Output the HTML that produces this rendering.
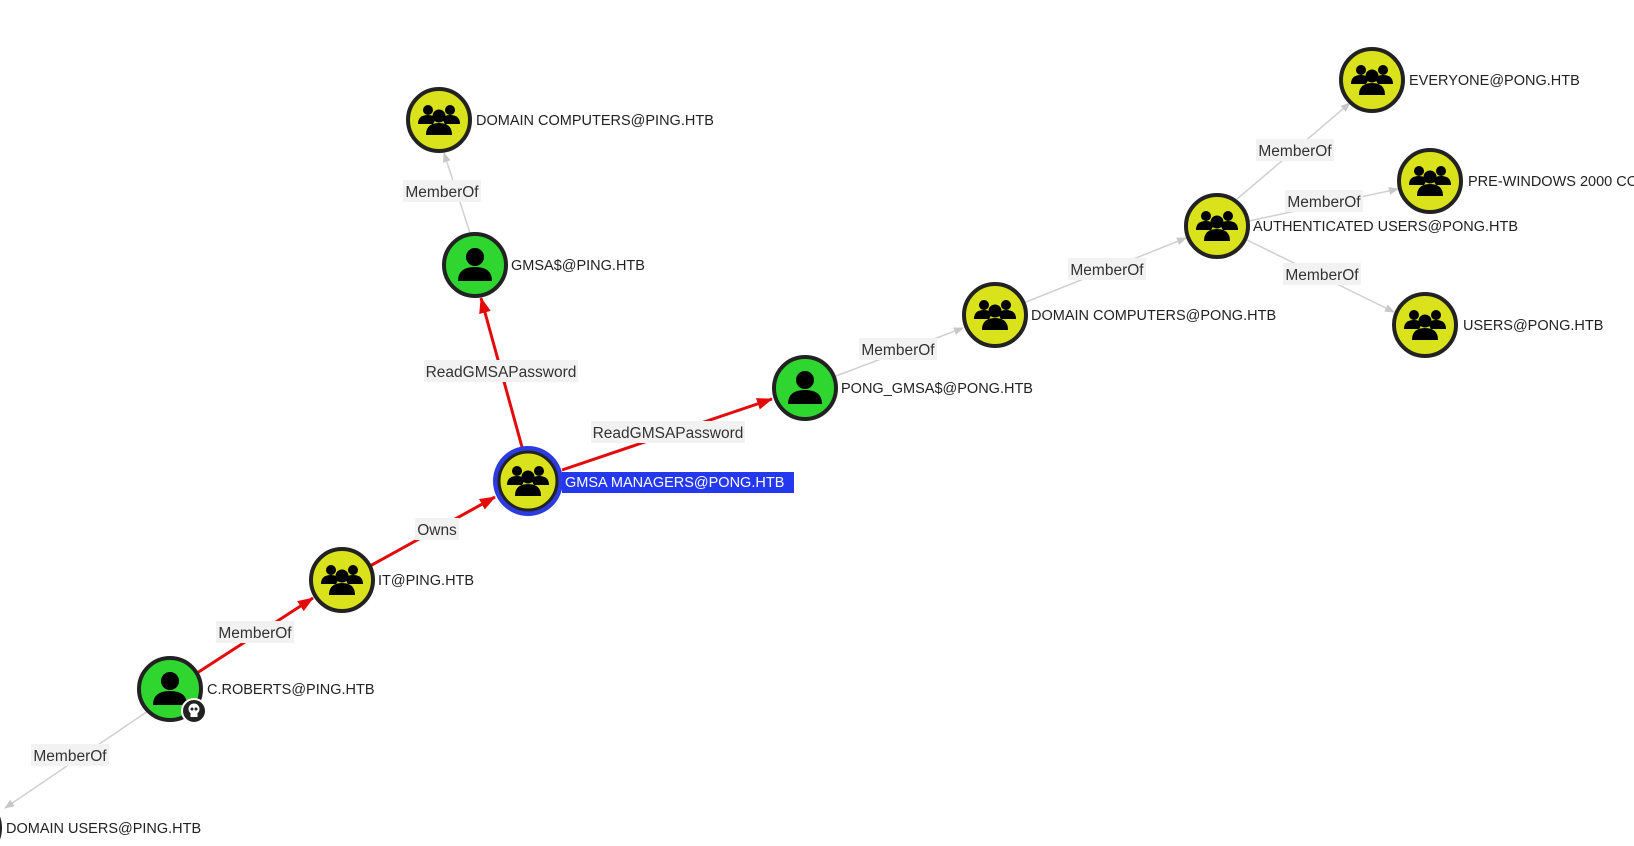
<!DOCTYPE html>
<html><head><meta charset="utf-8"><style>
html,body{margin:0;padding:0;background:#fff;overflow:hidden}
svg text{font-family:"Liberation Sans",Arial,sans-serif}
</style></head><body>
<svg width="1634" height="841" viewBox="0 0 1634 841" xmlns="http://www.w3.org/2000/svg">
<defs>
<marker id="ag" markerWidth="10" markerHeight="8" refX="9" refY="4" orient="auto" markerUnits="userSpaceOnUse"><path d="M0,0 L10,4 L0,8 z" fill="#c8c8c8"/></marker>
<marker id="ar" markerWidth="16" markerHeight="12" refX="15" refY="6" orient="auto" markerUnits="userSpaceOnUse"><path d="M0,0 L16,6 L0,12 z" fill="#e30a0a"/></marker>
<g id="grp">
<circle cx="-11" cy="-10" r="5"/><circle cx="11" cy="-10" r="5"/>
<path d="M-21,4 q0,-9 10,-9 q6,0 8,4 l-3,5 z"/><path d="M21,4 q0,-9 -10,-9 q-6,0 -8,4 l3,5 z"/>
<circle cx="0" cy="-4" r="6.5"/>
<path d="M-13,15 q0,-12 13,-12 q13,0 13,12 z"/>
</g>
<g id="usr">
<circle cx="0" cy="-8" r="9"/>
<path d="M-17,16 q0,-14 17,-14 q17,0 17,14 z"/>
</g>
</defs>
<g stroke="#d0d0d0" stroke-width="1.5" fill="none">
<line x1="470" y1="233" x2="444" y2="153" marker-end="url(#ag)"/>
<line x1="148" y1="711" x2="5" y2="808" marker-end="url(#ag)"/>
<line x1="836" y1="376" x2="963" y2="328" marker-end="url(#ag)"/>
<line x1="1026" y1="302" x2="1186" y2="238" marker-end="url(#ag)"/>
<line x1="1237" y1="199" x2="1350" y2="103" marker-end="url(#ag)"/>
<line x1="1249" y1="221" x2="1398" y2="189" marker-end="url(#ag)"/>
<line x1="1247" y1="240" x2="1394" y2="312" marker-end="url(#ag)"/>
</g>
<g stroke="#e30a0a" stroke-width="3" fill="none">
<line x1="197" y1="673" x2="313" y2="598" marker-end="url(#ar)"/>
<line x1="370" y1="566" x2="495" y2="497" marker-end="url(#ar)"/>
<line x1="522" y1="447" x2="481" y2="298" marker-end="url(#ar)"/>
<line x1="562" y1="470" x2="772" y2="399" marker-end="url(#ar)"/>
</g>
<g font-size="15.5" fill="#333" text-anchor="middle">
<rect x="403" y="180" width="78" height="22" fill="#f2f2f2"/><text x="442" y="197">MemberOf</text>
<rect x="424" y="360" width="154" height="22" fill="#f2f2f2"/><text x="501" y="377">ReadGMSAPassword</text>
<rect x="591" y="421" width="154" height="22" fill="#f2f2f2"/><text x="668" y="438">ReadGMSAPassword</text>
<rect x="415" y="518" width="44" height="22" fill="#f2f2f2"/><text x="437" y="535">Owns</text>
<rect x="216" y="621" width="78" height="22" fill="#f2f2f2"/><text x="255" y="638">MemberOf</text>
<rect x="31" y="744" width="78" height="22" fill="#f2f2f2"/><text x="70" y="761">MemberOf</text>
<rect x="859" y="338" width="78" height="22" fill="#f2f2f2"/><text x="898" y="355">MemberOf</text>
<rect x="1068" y="258" width="78" height="22" fill="#f2f2f2"/><text x="1107" y="275">MemberOf</text>
<rect x="1256" y="139" width="78" height="22" fill="#f2f2f2"/><text x="1295" y="156">MemberOf</text>
<rect x="1285" y="190" width="78" height="22" fill="#f2f2f2"/><text x="1324" y="207">MemberOf</text>
<rect x="1283" y="263" width="78" height="22" fill="#f2f2f2"/><text x="1322" y="280">MemberOf</text>
</g>
<g stroke="#222" stroke-width="4">
<circle cx="439" cy="120" r="31" fill="#d9e21a"/>
<circle cx="475" cy="265" r="31" fill="#2fd62f"/>
<circle cx="805" cy="388" r="31" fill="#2fd62f"/>
<circle cx="995" cy="315" r="31" fill="#d9e21a"/>
<circle cx="1217" cy="226" r="31" fill="#d9e21a"/>
<circle cx="1372" cy="80" r="31" fill="#d9e21a"/>
<circle cx="1430" cy="181" r="31" fill="#d9e21a"/>
<circle cx="1425" cy="325" r="31" fill="#d9e21a"/>
<circle cx="342" cy="580" r="31" fill="#d9e21a"/>
<circle cx="170" cy="689" r="31" fill="#2fd62f"/>
<circle cx="-31" cy="828" r="31" fill="#d9e21a"/>
</g>
<circle cx="528" cy="481" r="35" fill="#2b3be0"/>
<circle cx="528" cy="481" r="29" fill="#d9e21a" stroke="#222" stroke-width="3"/>
<g fill="#000">
<use href="#grp" x="439" y="120"/>
<use href="#usr" x="475" y="265"/>
<use href="#usr" x="805" y="388"/>
<use href="#grp" x="995" y="315"/>
<use href="#grp" x="1217" y="226"/>
<use href="#grp" x="1372" y="80"/>
<use href="#grp" x="1430" y="181"/>
<use href="#grp" x="1425" y="325"/>
<use href="#grp" x="342" y="580"/>
<use href="#usr" x="170" y="689"/>
<use href="#grp" x="528" y="481"/>
</g>
<circle cx="194" cy="711" r="12" fill="#222" stroke="#fff" stroke-width="2"/>
<circle cx="194" cy="709" r="5.5" fill="#fff"/><rect x="190.5" y="712" width="7" height="5" fill="#fff"/>
<circle cx="192" cy="709" r="1.5" fill="#222"/><circle cx="196" cy="709" r="1.5" fill="#222"/>
<rect x="562" y="472" width="232" height="21" fill="#2438f0"/>
<g font-size="14.5" fill="#222">
<text x="476" y="125">DOMAIN COMPUTERS@PING.HTB</text>
<text x="511" y="270">GMSA$@PING.HTB</text>
<text x="841" y="393">PONG_GMSA$@PONG.HTB</text>
<text x="1031" y="320">DOMAIN COMPUTERS@PONG.HTB</text>
<text x="1253" y="231">AUTHENTICATED USERS@PONG.HTB</text>
<text x="1409" y="85">EVERYONE@PONG.HTB</text>
<text x="1468" y="186">PRE-WINDOWS 2000 COMPATIBLE ACCESS@PONG.HTB</text>
<text x="1463" y="330">USERS@PONG.HTB</text>
<text x="378" y="585">IT@PING.HTB</text>
<text x="207" y="694">C.ROBERTS@PING.HTB</text>
<text x="6" y="833">DOMAIN USERS@PING.HTB</text>
<text x="565" y="487" fill="#fff">GMSA MANAGERS@PONG.HTB</text>
</g>
</svg>
</body></html>
